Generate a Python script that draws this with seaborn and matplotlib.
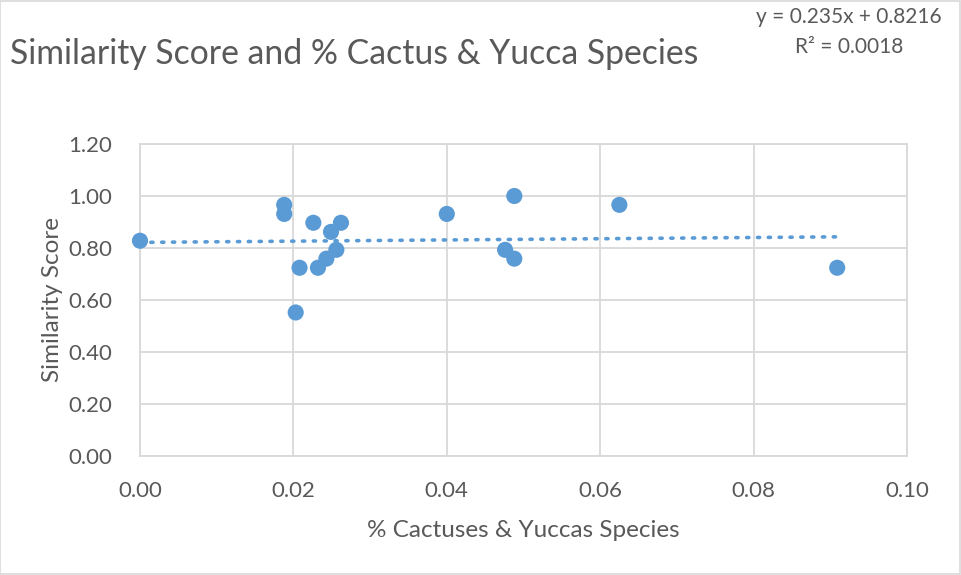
import numpy as np
import pandas as pd
import matplotlib
matplotlib.use("Agg")
import matplotlib.pyplot as plt
import seaborn as sns

# Share of cactus & yucca species per site and its similarity score
pct_cactus = [0.0000, 0.0188, 0.0188, 0.0226, 0.0249, 0.0262, 0.0256, 0.0243,
              0.0232, 0.0208, 0.0203, 0.0400, 0.0488, 0.0476, 0.0488, 0.0625, 0.0909]
similarity = [0.828, 0.966, 0.931, 0.897, 0.862, 0.897, 0.793, 0.759,
              0.724, 0.724, 0.552, 0.931, 1.000, 0.793, 0.759, 0.966, 0.724]

# Linear trendline coefficients
slope = 0.235
intercept = 0.8216
r_squared = 0.0018

x_ticks = [0.00, 0.02, 0.04, 0.06, 0.08, 0.10]
y_ticks = [0.00, 0.20, 0.40, 0.60, 0.80, 1.00, 1.20]

df = pd.DataFrame({"pct": pct_cactus, "score": similarity})

sns.set_theme(style="white")
plt.rcParams["font.family"] = ["Lato", "DejaVu Sans"]

TEXT = "#595959"
GRID = "#d9d9d9"
BLUE = "#5B9BD5"

fig = plt.figure(figsize=(9.61, 5.75), dpi=100)
fig.patch.set_facecolor("white")
ax = fig.add_axes([140 / 961, 1 - 456 / 575, 767 / 961, 312 / 575])

# dotted linear trendline over the data range
x_line = np.array([min(pct_cactus), max(pct_cactus)])
trend = pd.DataFrame({"pct": x_line, "score": slope * x_line + intercept})
sns.lineplot(data=trend, x="pct", y="score", ax=ax, color=BLUE,
             linewidth=2.6, linestyle=(0, (0.6, 2.4)), dash_capstyle="round",
             zorder=3)

sns.scatterplot(data=df, x="pct", y="score", ax=ax, color=BLUE, s=135,
                edgecolor="none", zorder=4, clip_on=False)

ax.set_xlim(0, 0.10)
ax.set_ylim(0, 1.20)
ax.set_xticks(x_ticks)
ax.set_yticks(y_ticks)
ax.set_xticklabels([f"{v:.2f}" for v in x_ticks])
ax.set_yticklabels([f"{v:.2f}" for v in y_ticks])
ax.tick_params(axis="both", length=0, labelsize=16, colors=TEXT)
ax.tick_params(axis="x", pad=18)
ax.tick_params(axis="y", pad=20)

ax.grid(True, color=GRID, linewidth=1.3)
ax.set_axisbelow(True)
for sp in ax.spines.values():
    sp.set_visible(True)
    sp.set_color(GRID)
    sp.set_linewidth(1.3)

ax.set_xlabel("% Cactuses & Yuccas Species", fontsize=17.5, color=TEXT, labelpad=14)
ax.set_ylabel("Similarity Score", fontsize=17.5, color=TEXT, labelpad=4)

fig.text(10 / 961, 1 - 54 / 575, "Similarity Score and % Cactus & Yucca Species",
         fontsize=24.3, color=TEXT, ha="left", va="center")
fig.text(849 / 961, 1 - 17 / 575, f"y = {slope}x + {intercept}",
         fontsize=15, color=TEXT, ha="center", va="center")
fig.text(849 / 961, 1 - 47 / 575, f"R² = {r_squared}",
         fontsize=15, color=TEXT, ha="center", va="center")

# thin frame round the whole chart
fig.add_artist(plt.Rectangle((0.0005, 0.001), 0.998, 0.998, transform=fig.transFigure,
                             fill=False, edgecolor=GRID, linewidth=1.2))

fig.savefig("out.png", dpi=100, facecolor="white")
